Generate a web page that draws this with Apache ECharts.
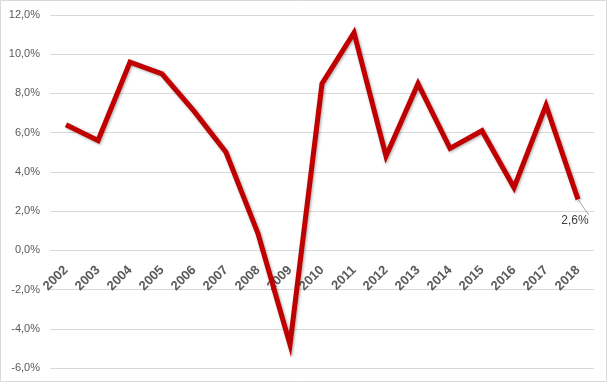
<!DOCTYPE html>
<html><head><meta charset="utf-8">
<script src="https://cdn.jsdelivr.net/npm/echarts@6/dist/echarts.min.js"></script>
<style>html,body{margin:0;padding:0;background:#fff}#c{width:608px;height:383px}</style>
</head><body><div id="c"></div>
<script>
var years = ['2002','2003','2004','2005','2006','2007','2008','2009','2010','2011','2012','2013','2014','2015','2016','2017','2018'];
var growth = [6.4, 5.6, 9.6, 9.0, 7.1, 5.0, 0.85, -4.8, 8.5, 11.1, 4.8, 8.5, 5.2, 6.1, 3.2, 7.4, 2.6];
var yMin = -6, yMax = 12, yStep = 2;

var chart = echarts.init(document.getElementById('c'));
var fmt = function(v){ return v.toFixed(1).replace('.', ',') + '%'; };
chart.setOption({
  animation: false,
  graphic: [{type:'rect', shape:{x:0.5,y:0.5,width:606,height:381}, style:{fill:'none', stroke:'#d9d9d9', lineWidth:1}}],
  grid: {left: 50, right: 14, top: 15, bottom: 15, containLabel: false, outerBoundsMode: 'none'},
  xAxis: {
    type: 'category', data: years, boundaryGap: true, position: 'bottom', offset: -118,
    axisLine: {show: false, onZero: false}, axisTick: {show: false},
    axisLabel: {rotate: 45, color: '#595959', fontWeight: 'bold', fontSize: 13, fontFamily: 'Liberation Sans', margin: 18, interval: 0}
  },
  yAxis: {
    type: 'value', min: yMin, max: yMax, interval: yStep,
    axisLine: {show: false}, axisTick: {show: false},
    splitLine: {lineStyle: {color: '#d9d9d9', width: 1}},
    axisLabel: {color: '#595959', fontSize: 11, fontFamily: 'Liberation Sans', formatter: fmt, margin: 10}
  },
  series: [{
    type: 'line', data: growth.map(function(v,i){
      return i === growth.length-1 ? {value: v, label: {show: true, position: 'bottom', offset: [-3, 10], formatter: function(p){return fmt(p.value);}, color: '#404040', fontSize: 12, fontFamily: 'Liberation Sans'}} : v;
    }),
    symbol: 'circle', symbolSize: 1, showSymbol: true, itemStyle: {color: 'rgba(0,0,0,0)', borderWidth: 0},
    labelLine: {show: true, lineStyle: {color: '#a6a6a6', width: 1}},
    lineStyle: {color: '#C00000', width: 5, shadowColor: 'rgba(0,0,0,0.35)', shadowBlur: 3, shadowOffsetX: 1, shadowOffsetY: 1, join: 'miter'}
  }]
});
</script></body></html>
